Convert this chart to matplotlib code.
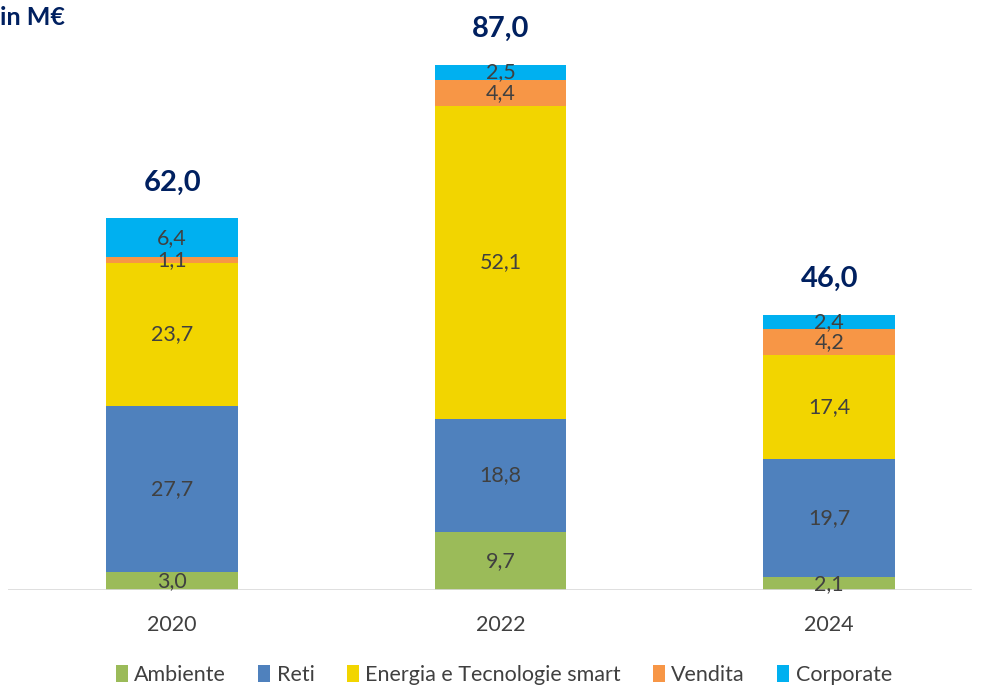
import numpy as np
import matplotlib.pyplot as plt
from matplotlib.patches import Patch

plt.rcParams['font.family'] = ['Lato', 'DejaVu Sans']

years = ['2020', '2022', '2024']
ambiente = [3.0, 9.7, 2.1]
reti = [27.7, 18.8, 19.7]
energia = [23.7, 52.1, 17.4]
vendita = [1.1, 4.4, 4.2]
corporate = [6.4, 2.5, 2.4]
totals = [62.0, 87.0, 46.0]

names = ['Ambiente', 'Reti', 'Energia e Tecnologie smart', 'Vendita', 'Corporate']
colors = ['#9BBB59', '#4F81BD', '#F2D500', '#F79646', '#00B0F0']
series = [ambiente, reti, energia, vendita, corporate]

navy = '#002060'
grey = '#404040'

fig = plt.figure(figsize=(9.86, 6.86), dpi=100)
ax = fig.add_axes([0.008, 0.14, 0.9995, 0.86])

x = np.arange(len(years))
bottom = np.zeros(len(years))
for vals, c in zip(series, colors):
    vals = np.array(vals)
    ax.bar(x, vals, 0.40, bottom=bottom, color=c, edgecolor='none')
    for xi, b, v in zip(x, bottom, vals):
        ax.text(xi, b + v / 2, f'{v:.1f}'.replace('.', ','), ha='center', va='center',
                fontsize=15.5, color=grey)
    bottom += vals

for xi, t, b in zip(x, totals, bottom):
    ax.text(xi, b + 6, f'{t:.1f}'.replace('.', ','), ha='center', va='center',
            fontsize=21, fontweight='bold', color=navy)

ax.set_xlim(-0.5, 2.5)
ax.set_ylim(0, 98.3)
ax.axhline(0, xmin=0, xmax=0.977, color='#D9D9D9', lw=1.2)
for s in ax.spines.values():
    s.set_visible(False)
ax.set_yticks([])
ax.set_xticks(x)
ax.set_xticklabels(years, fontsize=15.5, color=grey)
ax.tick_params(axis='x', length=0, pad=18)

fig.text(0.0, 0.975, 'in M€', fontsize=18, fontweight='bold', color=navy, ha='left', va='center')

handles = [Patch(facecolor=c, label=n) for n, c in zip(names, colors)]
fig.legend(handles=handles, loc='center', bbox_to_anchor=(0.511, 0.016), ncol=5, frameon=False,
           fontsize=15.5, handlelength=0.55, handleheight=0.8, handletextpad=0.3, columnspacing=1.5,
           labelcolor=grey)

fig.savefig('out.png', dpi=100)
